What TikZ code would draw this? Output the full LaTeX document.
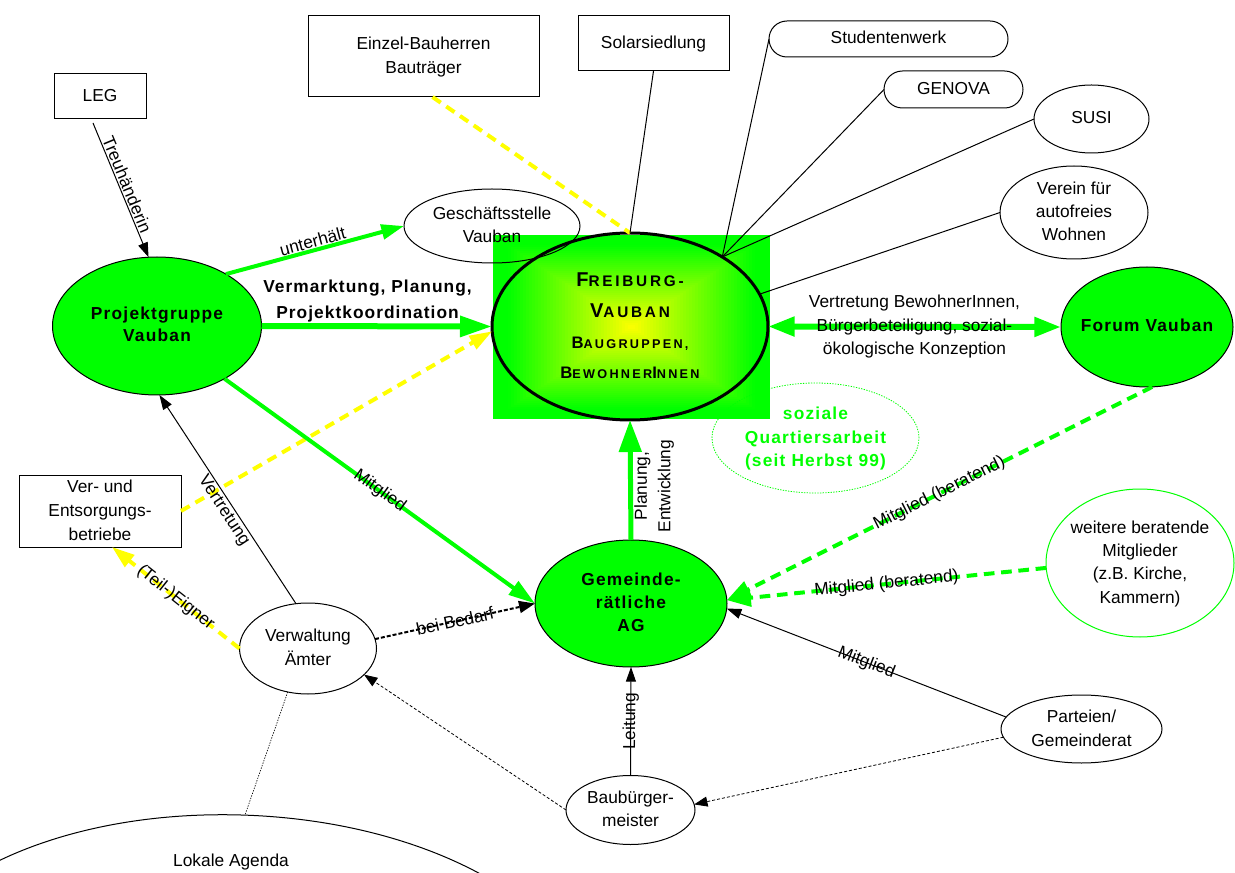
\documentclass[tikz,border=0pt]{standalone}
\usepackage{fontspec}
\setmainfont{Liberation Sans}
\newfontfamily\spcfont[LetterSpace=7]{Liberation Sans}
\newfontfamily\fvfont[LetterSpace=18]{Liberation Sans}
\usetikzlibrary{shapes.geometric,shapes.misc,arrows.meta,calc}
\definecolor{vgreen}{RGB}{0,255,0}
\definecolor{vyellow}{RGB}{255,255,0}
\newcommand\ctext[1]{\makebox[0pt]{\raisebox{-0.25em}[0pt][0pt]{\begin{tabular}{@{}c@{}}#1\end{tabular}}}}
\newcommand\szz[2]{{\fontsize{#1}{23}\selectfont #2}}
\tikzset{
  base/.style={inner sep=0pt, outer sep=0pt, line width=0.75pt},
  box/.style={base, draw, rectangle},
  oval/.style={base, draw, ellipse},
  rbox/.style={base, draw, rounded rectangle},
  goval/.style={base, draw, ellipse, fill=vgreen, font=\fontsize{13}{16.5}\selectfont\spcfont\bfseries},
  blk/.style={line width=0.75pt, -{Triangle[length=11pt,width=7.5pt]}},
  plain/.style={line width=0.75pt},
  bdash/.style={line width=1.5pt, dash pattern=on 3pt off 1.5pt, -{Triangle[length=12pt,width=9pt]}},
  bdot/.style={line width=0.6pt, dash pattern=on 2.25pt off 1.5pt, -{Triangle[length=10pt,width=7.5pt]}},
  gone/.style={vgreen, line width=3pt, -{Triangle[length=17pt,width=11pt]}},
  gtwo/.style={vgreen, line width=4.5pt, -{Triangle[length=24pt,width=15pt]}},
  gdouble/.style={vgreen, line width=4.5pt, {Triangle[length=20pt,width=14pt]}-{Triangle[length=20pt,width=14pt]}},
  gup/.style={vgreen, line width=3.75pt, -{Triangle[length=24pt,width=16.5pt]}},
  gmit/.style={vgreen, line width=3pt, -{Triangle[length=20pt,width=12pt]}},
  gdash/.style={vgreen, line width=3pt, dash pattern=on 8pt off 5pt, -{Triangle[length=18pt,width=13pt]}},
  ydash/.style={vyellow, line width=3pt, dash pattern=on 7.5pt off 5pt},
  ydarrow/.style={ydash, -{Triangle[length=17pt,width=11pt]}},
  lbl/.style={text=black, inner sep=1pt, font=\fontsize{13}{17.5}\selectfont},
  every node/.append style={font=\fontsize{13}{17.5}\selectfont}
}
\begin{document}
\begin{tikzpicture}[x=0.75pt,y=-0.75pt]
\useasboundingbox (0,0) rectangle (1235,873);
\clip (0,0) rectangle (1235,873);
% gradient background of Freiburg-Vauban
\foreach \i in {0,...,46}{
  \pgfmathsetmacro\ff{\i/46}
  \pgfmathsetmacro\rr{max(0,min(1,(\ff-0.1)/0.9))}
  \definecolor{gradc}{rgb}{\rr,1,0}
  \fill[gradc] ({631.5-138.5*(1-\ff)},{327-92*(1-\ff)}) rectangle ({631.5+138.5*(1-\ff)},{327+92*(1-\ff)});
}
% nodes
\node[box, minimum width=69pt, minimum height=33.75pt] (leg) at (100,96.5) {\ctext{LEG}};
\node[box, minimum width=173.25pt, minimum height=60.75pt] (einzel) at (423.5,56.5) {\ctext{Einzel-Bauherren\\Bauträger}};
\node[box, minimum width=113.25pt, minimum height=41.25pt] (solar) at (653.5,43.5) {\ctext{Solarsiedlung}};
\node[rbox, minimum width=179.25pt, minimum height=27pt] (stw) at (888.5,39) {\ctext{Studentenwerk}};
\node[rbox, minimum width=104.25pt, minimum height=27.75pt] (genova) at (953.5,89.5) {\ctext{GENOVA}};
\node[oval, minimum width=86.25pt, minimum height=51pt] (susi) at (1091.5,119) {\ctext{SUSI}};
\node[oval, minimum width=111pt, minimum height=69.75pt] (verein) at (1074,212.5) {\ctext{Verein für\\autofreies\\Wohnen}};
\node[oval, minimum width=132pt, minimum height=55.5pt] (gs) at (492,226) {\ctext{Geschäftsstelle\\Vauban}};
\node[goval, minimum width=156.75pt, minimum height=103.5pt] (pg) at (157,326) {\ctext{Projektgruppe\\Vauban}};
\node[base, draw, ellipse, line width=2.25pt, minimum width=207pt, minimum height=140.25pt,
      font=\fontsize{13}{23}\selectfont\fvfont\bfseries] (fv) at (630,326.5)
  {\ctext{\szz{15}{F}\szz{11.5}{REIBURG-}\\\szz{15}{V}\szz{11.5}{AUBAN}\\\szz{12.5}{B}\szz{9.5}{AUGRUPPEN,}\\\szz{12.5}{B}\szz{9.5}{EWOHNER}\szz{12.5}{I}\szz{9.5}{NNEN}}};
\node[goval, minimum width=129pt, minimum height=90pt] (forum) at (1147,327) {\ctext{Forum Vauban}};
\node[base, draw=vgreen, line width=0.6pt, dash pattern=on 1pt off 1pt, ellipse, minimum width=155.25pt, minimum height=82.5pt,
      text=vgreen, font=\fontsize{13}{17.5}\selectfont\spcfont\bfseries] (soz) at (815.5,438) {\ctext{soziale\\Quartiersarbeit\\(seit Herbst 99)}};
\node[goval, minimum width=144pt, minimum height=95.25pt, font=\fontsize{13}{17}\selectfont\spcfont\bfseries] (gr) at (631,603.5) {\ctext{Gemeinde-\\rätliche\\AG}};
\node[oval, draw=vgreen, minimum width=141pt, minimum height=111pt] (weit) at (1140,563) {\ctext{weitere beratende\\Mitglieder\\(z.B. Kirche,\\Kammern)}};
\node[box, minimum width=121.5pt, minimum height=54pt, font=\fontsize{13}{18}\selectfont] (ver) at (100,511) {\ctext{Ver- und\\Entsorgungs-\\betriebe}};
\node[oval, minimum width=102.75pt, minimum height=68.25pt, font=\fontsize{13}{18}\selectfont] (verw) at (308,648.5) {\ctext{Verwaltung\\Ämter}};
\node[oval, minimum width=120.75pt, minimum height=51pt, font=\fontsize{13}{18}\selectfont] (part) at (1081.5,729) {\ctext{Parteien/\\Gemeinderat}};
\node[oval, minimum width=96.75pt, minimum height=51.75pt] (bb) at (630.5,810) {\ctext{Baubürger-\\meister}};
\node[base, draw, ellipse, rotate=-2, minimum width=535.5pt, minimum height=300pt] (agenda) at (238,1015) {};
\node[lbl] (agt) at (231,862) {Lokale Agenda};
% connectors
\draw[blk] ($(leg.south)+(-7,4)$) -- node[lbl, sloped, above, pos=0.48] {Treuhänderin} (pg.97);
\draw[gone] (pg.37) -- node[lbl, sloped, above, inner sep=0.5pt] {unterhält} (gs.west);
\draw[ydarrow] (ver.east) -- (fv.182);
\draw[gtwo] (pg.east) -- node[lbl, above=1pt, pos=0.46, align=center, inner sep=0pt, font=\fontsize{13}{19.5}\selectfont\fvfont\bfseries\addfontfeature{LetterSpace=6}] {Vermarktung, Planung,\\Projektkoordination} (fv.west);
\draw[ydash] ($(einzel.south)+(9,0)$) -- (fv.north);
\draw[plain] (solar.south) -- (fv.north);
\draw[plain] (stw.west) -- (fv.37);
\draw[plain] (genova.west) -- (fv.37);
\draw[plain] (susi.west) -- (fv.37);
\draw[plain] (verein.west) -- (fv.14);
\draw[gdouble] (fv.east) -- node[lbl, align=center] {Vertretung BewohnerInnen,\\Bürgerbeteiligung, sozial-\\ökologische Konzeption} (forum.west);
\draw[gup] (gr.north) -- node[lbl, pos=0.45, rotate=90, anchor=north, align=center] {Planung,\\Entwicklung} (fv.south);
\draw[gmit] (pg.-38) -- node[lbl, sloped, pos=0.5] {Mitglied} (gr.west);
\draw[blk] (verw.105) -- node[lbl, sloped, below=0pt, pos=0.47] {Vertretung} (pg.-88);
\draw[ydarrow] (verw.west) -- node[lbl, sloped, pos=0.5] {(Teil-)Eigner} ($(ver.south)+(12,0)$);
\draw[bdash] (verw.8) -- node[lbl, sloped, pos=0.5] {bei Bedarf} (gr.west);
\draw[blk] (bb.north) -- node[lbl, sloped, pos=0.5] {Leitung} (gr.south);
\draw[bdot] (bb.west) -- (verw.-25);
\draw[blk] (part.171) -- node[lbl, sloped, pos=0.5] {Mitglied} (gr.-3);
\draw[bdot] (part.186) -- (bb.5);
\draw[gdash] (forum.-85) -- node[lbl, sloped, pos=0.5] {Mitglied (beratend)} (gr.2);
\draw[gdash] (weit.183) -- node[lbl, sloped, pos=0.5] {Mitglied (beratend)} (gr.2);
\draw[line width=0.5pt, dash pattern=on 1pt off 1pt] (verw.-115) -- (agenda.north);
\end{tikzpicture}
\end{document}
